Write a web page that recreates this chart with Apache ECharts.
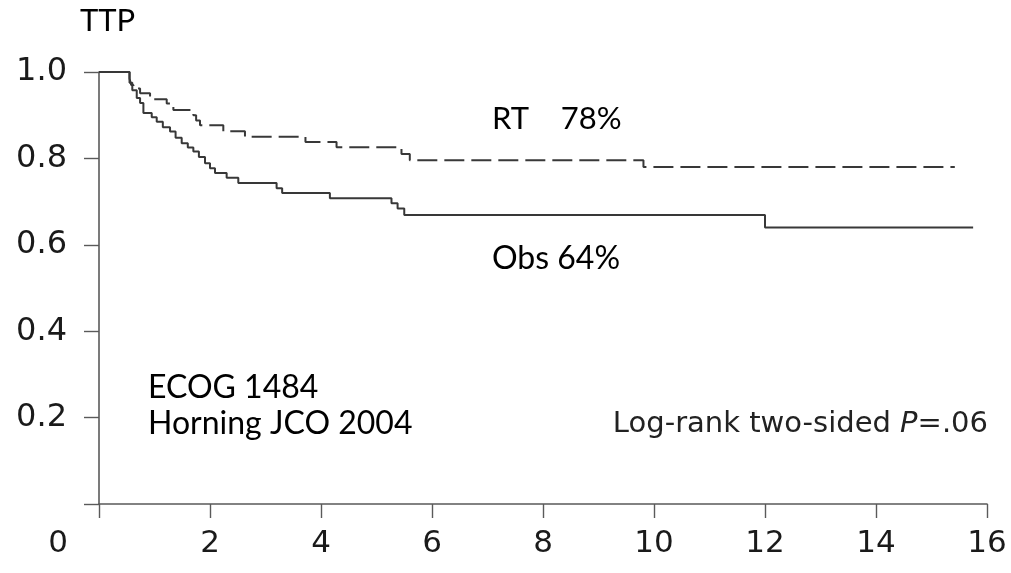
<!DOCTYPE html>
<html>
<head>
<meta charset="utf-8">
<title>TTP – ECOG 1484</title>
<script src="https://cdn.jsdelivr.net/npm/echarts@6/dist/echarts.min.js"></script>
<style>
  html, body { margin: 0; padding: 0; background: #fff; }
  #chart { width: 1011px; height: 573px; }
</style>
</head>
<body>
<div id="chart"></div>
<script>
// Kaplan–Meier time-to-progression, years since randomisation.
// Each pair is (event time, survival fraction after that event).
const obsTimes = [0, 0.55, 0.60, 0.68, 0.74, 0.80, 0.95, 1.04, 1.15, 1.28, 1.38, 1.49, 1.60, 1.70, 1.80, 1.91, 2.00, 2.09, 2.30, 2.51, 3.20, 3.30, 4.16, 5.27, 5.38, 5.50, 12.00, 15.75];
const obsSurv  = [1.0, 0.975, 0.958, 0.940, 0.928, 0.905, 0.895, 0.885, 0.872, 0.862, 0.848, 0.835, 0.825, 0.816, 0.803, 0.789, 0.777, 0.766, 0.755, 0.743, 0.731, 0.720, 0.708, 0.696, 0.684, 0.669, 0.64, 0.64];

const rtTimes = [0, 0.55, 0.58, 0.62, 0.74, 0.92, 1.22, 1.34, 1.70, 1.75, 1.82, 2.24, 2.63, 3.72, 4.28, 5.45, 5.60, 9.81, 15.42];
const rtSurv  = [1.0, 0.985, 0.970, 0.962, 0.951, 0.937, 0.927, 0.912, 0.900, 0.888, 0.877, 0.863, 0.850, 0.838, 0.826, 0.810, 0.796, 0.78, 0.78];

// Axis ranges and tick spacing
const xRange = [0, 16];
const xStep = 2;
const yRange = [0, 1];
const yStep = 0.2;

// Annotation texts
const yTitle = 'TTP';
const studyLines = ['ECOG 1484', 'Horning JCO 2004'];
const testText = 'Log-rank two-sided ';
const pValue = '.06';

const zip = (a, b) => a.map((t, i) => [t, b[i]]);
const obsData = zip(obsTimes, obsSurv);
const rtData = zip(rtTimes, rtSurv);
const pct = v => Math.round(v * 100) + '%';
const rtLabel = 'RT    ' + pct(rtSurv[rtSurv.length - 1]);
const obsLabel = 'Obs ' + pct(obsSurv[obsSurv.length - 1]);

const axisColor = '#5a5a5a';
const curveColor = '#383838';
const tickFont = { fontFamily: 'DejaVu Sans', color: '#1a1a1a' };
const noteFont = 'Lato';

function note(x, y, text, size) {
  return {
    type: 'text', x: x, y: y,
    style: {
      text: text, fontFamily: noteFont, fontSize: size, fill: '#000',
      align: 'left', verticalAlign: 'middle', textAlign: 'left', textVerticalAlign: 'middle'
    }
  };
}

const chart = echarts.init(document.getElementById('chart'), null, { renderer: 'canvas' });

chart.setOption({
  animation: false,
  backgroundColor: '#ffffff',
  grid: { left: 99, right: 24, top: 72, bottom: 69, containLabel: false, outerBoundsMode: 'none' },
  xAxis: {
    type: 'value',
    min: xRange[0], max: xRange[1], interval: xStep,
    splitLine: { show: false },
    axisLine: { show: true, lineStyle: { color: axisColor, width: 1.6 } },
    axisTick: { show: true, inside: false, length: 14, lineStyle: { color: axisColor, width: 1.4 } },
    axisLabel: {
      ...tickFont, fontSize: 31, margin: 24,
      showMinLabel: true, showMaxLabel: true,
      formatter: v => (v === 0 ? '{zero|0}' : String(v)),
      rich: { zero: { ...tickFont, fontSize: 31, padding: [0, 82, 0, 0] } }
    }
  },
  yAxis: {
    type: 'value',
    min: yRange[0], max: yRange[1], interval: yStep,
    splitLine: { show: false },
    axisLine: { show: true, lineStyle: { color: axisColor, width: 1.6 } },
    axisTick: { show: true, inside: false, length: 15, lineStyle: { color: axisColor, width: 1.4 } },
    axisLabel: {
      ...tickFont, fontSize: 32, margin: 32,
      formatter: v => (v === 0 ? '' : v.toFixed(1))
    }
  },
  series: [
    {
      name: 'RT',
      type: 'line',
      step: 'end',
      showSymbol: false,
      data: rtData,
      lineStyle: { color: curveColor, width: 2, type: [20, 7] },
      z: 2
    },
    {
      name: 'Obs',
      type: 'line',
      step: 'end',
      showSymbol: false,
      data: obsData,
      lineStyle: { color: curveColor, width: 2, type: 'solid' },
      z: 3
    }
  ],
  graphic: [
    note(80, 21, yTitle, 31),
    note(492, 119, rtLabel, 31),
    note(492, 259, obsLabel, 32),
    note(148, 388, studyLines[0], 32),
    note(148, 424, studyLines[1], 32),
    {
      type: 'text', x: 988, y: 424,
      style: {
        text: testText + '{i|P}=' + pValue,
        fontFamily: 'DejaVu Sans', fontSize: 29, fill: '#222',
        align: 'right', verticalAlign: 'middle', textAlign: 'right', textVerticalAlign: 'middle',
        rich: { i: { fontFamily: 'DejaVu Sans', fontSize: 29, fontStyle: 'italic', fill: '#222' } }
      }
    }
  ]
});
</script>
</body>
</html>
